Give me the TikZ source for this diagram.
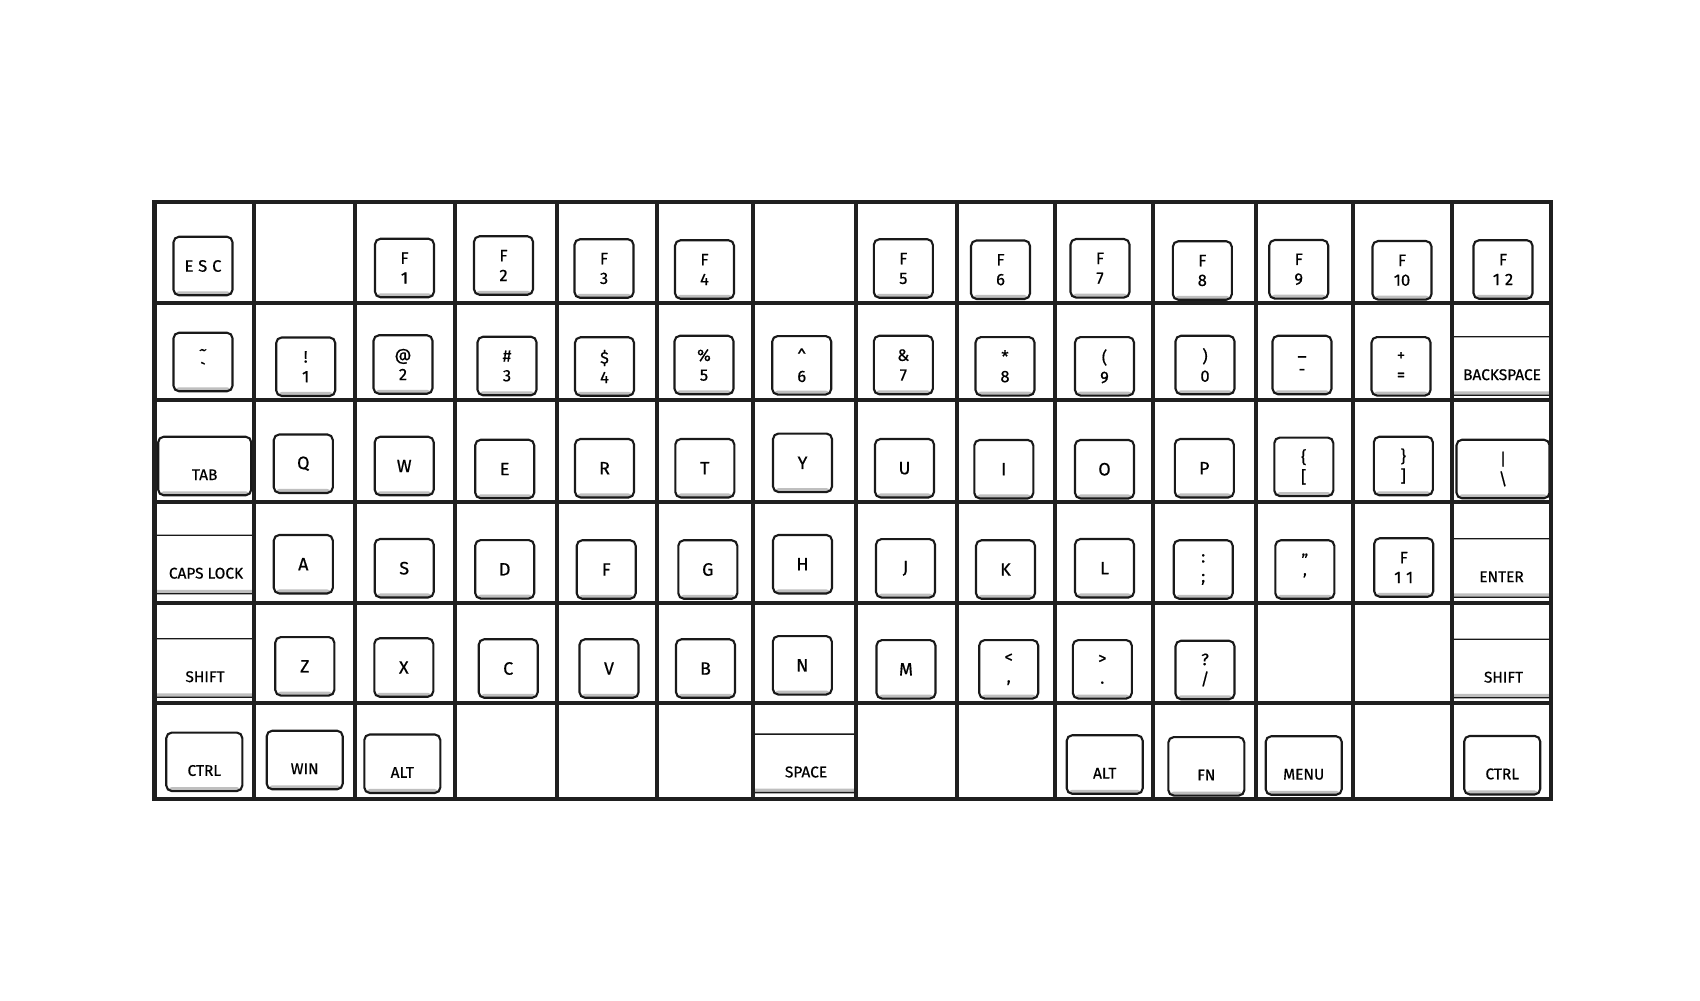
\documentclass[tikz,border=0pt]{standalone}
\usepackage{fontspec}
\setmainfont{Fira Sans}[FakeBold=0.6]
\newfontfamily\widefont{Fira Sans}[LetterSpace=30, FakeBold=0.6]

\begin{document}
\begin{tikzpicture}[
  x=0.2mm, y=-0.2mm,
  key/.style={draw=black!90, line width=1.2pt, fill=white, rounded corners=1.1mm, minimum width=11.8mm, minimum height=11.7mm, inner sep=0pt, align=center, font=\fontsize{9.4}{11.2}\selectfont,
    path picture={\fill[black!25] (path picture bounding box.south west) rectangle ([yshift=0.8mm]path picture bounding box.south east);}},
  letter/.style={key, font=\fontsize{10.2}{11}\selectfont},
  modkey/.style={key, minimum width=15.2mm, font=\fontsize{8.8}{10}\selectfont, text height=16pt, text depth=0pt},
  widekey/.style={modkey, minimum width=18.6mm},
  cutkey/.style={modkey, minimum width=30mm, line width=0.8pt},
  grid/.style={draw=black!88, line width=2.45pt}
]
\useasboundingbox (0,0) rectangle (1700,1000);

% row 0
\node[key] (esc) at (203,266) {\widefont ESC};
\node[key] (f1) at (404.5,268) {F\\1};
\node[key] (f2) at (503.5,265.5) {F\\2};
\node[key] (f3) at (604,268.5) {F\\3};
\node[key] (f4) at (704.5,269.5) {F\\4};
\node[key] (f5) at (903.3,268.5) {F\\5};
\node[key] (f6) at (1000.5,269.7) {F\\6};
\node[key] (f7) at (1100,268.3) {F\\7};
\node[key] (f8) at (1202.3,270.5) {F\\8};
\node[key] (f9) at (1298.7,269.3) {F\\9};
\node[key] (f10) at (1402,270.3) {F\\10};
\node[key] (f12) at (1503,269.5) {F\\{\widefont 12}};

% row 1
\node[key] (tilde) at (203,362) {\textasciitilde\\\textasciigrave};
\node[key] (n1) at (305.7,366.7) {!\\1};
\node[key] (n2) at (403,364.5) {@\\2};
\node[key] (n3) at (507,366) {\#\\3};
\node[key] (n4) at (604.5,366.5) {\$\\4};
\node[key] (n5) at (704,365) {\%\\5};
\node[key] (n6) at (801.7,365.3) {\textasciicircum\\6};
\node[key] (n7) at (903.3,365) {\&\\7};
\node[key] (n8) at (1005,366.3) {*\\8};
\node[key] (n9) at (1104.5,366.3) {(\\9};
\node[key] (n0) at (1205,365) {)\\0};
\node[key] (minus) at (1302,365) {\_\\-};
\node[key] (equal) at (1401,366.3) {+\\=};
\begin{scope}
  \clip (1452.3,303.3) rectangle (1551.3,400.3);
  \node[cutkey] (bksp) at (1502,366) {BACKSPACE};
\end{scope}

% row 2
\node[widekey] (tab) at (204.7,466) {TAB};
\node[letter] (q) at (303.3,463.7) {Q};
\node[letter] (w) at (404.2,466) {W};
\node[letter] (e) at (504.7,469) {E};
\node[letter] (r) at (604.5,468.2) {R};
\node[letter] (t) at (704.8,468.2) {T};
\node[letter] (y) at (802.5,462.8) {Y};
\node[letter] (u) at (904.5,468.2) {U};
\node[letter] (i) at (1003.8,469.2) {I};
\node[letter] (o) at (1104.5,469.2) {O};
\node[letter] (p) at (1204.3,468.2) {P};
\node[key] (lbrack) at (1303.8,466.8) {\{\\{[}};
\node[key] (rbrack) at (1403.3,466) {\}\\]};
\node[key, minimum width=18.6mm] (bslash) at (1503,469) {\textbar\\\textbackslash};

% row 3
\begin{scope}
  \clip (154.5,502.3) rectangle (253.7,603);
  \node[cutkey] (caps) at (206,564.5) {CAPS LOCK};
\end{scope}
\node[letter] (a) at (303.3,564.2) {A};
\node[letter] (s) at (404.2,568.2) {S};
\node[letter] (d) at (504.7,569.3) {D};
\node[letter] (f) at (606.2,569.5) {F};
\node[letter] (g) at (707.8,569.5) {G};
\node[letter] (h) at (802.5,564.2) {H};
\node[letter] (j) at (905.5,568.3) {J};
\node[letter] (k) at (1005.5,569.5) {K};
\node[letter] (l) at (1104.5,568.2) {L};
\node[key] (semi) at (1203.2,569.5) {:\\;};
\node[key] (quote) at (1304.8,569.5) {"\\'};
\node[key] (f11) at (1403.7,567.5) {F\\{\widefont 11}};
\begin{scope}
  \clip (1452.3,502.3) rectangle (1551.3,603);
  \node[cutkey] (enter) at (1501.5,568) {ENTER};
\end{scope}

% row 4
\begin{scope}
  \clip (154.5,603) rectangle (253.7,703.3);
  \node[cutkey] (lshift) at (205,668) {SHIFT};
\end{scope}
\node[letter] (z) at (304.8,666.3) {Z};
\node[letter] (x) at (403.8,667.5) {X};
\node[letter] (c) at (508.2,668.5) {C};
\node[letter] (v) at (609,668.5) {V};
\node[letter] (b) at (705.5,668.5) {B};
\node[letter] (n) at (802.3,665.3) {N};
\node[letter] (m) at (906,669.3) {M};
\node[key] (comma) at (1008.7,669.3) {<\\,};
\node[key] (period) at (1102.3,669.3) {>\\.};
\node[key] (slash) at (1205,670) {?\\/};
\begin{scope}
  \clip (1452.3,603) rectangle (1551.3,703.3);
  \node[cutkey] (rshift) at (1503.5,668.5) {SHIFT};
\end{scope}

% row 5
\node[modkey] (lctrl) at (204.3,761.8) {CTRL};
\node[modkey] (win) at (304.7,760) {WIN};
\node[modkey] (lalt) at (402.3,763.7) {ALT};
\begin{scope}
  \clip (753.3,703.3) rectangle (855.7,799);
  \node[cutkey] (space) at (806,763.3) {SPACE};
\end{scope}
\node[modkey] (ralt) at (1104.7,764.5) {ALT};
\node[modkey] (fn) at (1206.3,766.3) {FN};
\node[modkey] (menu) at (1303.7,765.5) {MENU};
\node[modkey] (rctrl) at (1502.2,765.2) {CTRL};

% cell grid
\draw[grid] (154.5,201.7) rectangle (1551.3,799);
\draw[grid] (253.7,201.7) -- (253.7,799) (355.3,201.7) -- (355.3,799)
  (454.7,201.7) -- (454.7,799) (556.7,201.7) -- (556.7,799)
  (657.3,201.7) -- (657.3,799) (753.3,201.7) -- (753.3,799)
  (855.7,201.7) -- (855.7,799) (957.3,201.7) -- (957.3,799)
  (1054.7,201.7) -- (1054.7,799) (1153.3,201.7) -- (1153.3,799)
  (1255.7,201.7) -- (1255.7,799) (1353.3,201.7) -- (1353.3,799)
  (1452.3,201.7) -- (1452.3,799);
\draw[grid] (154.5,303.3) -- (1551.3,303.3) (154.5,400.3) -- (1551.3,400.3)
  (154.5,502.3) -- (1551.3,502.3) (154.5,603) -- (1551.3,603)
  (154.5,703.3) -- (1551.3,703.3);

\end{tikzpicture}
\end{document}
